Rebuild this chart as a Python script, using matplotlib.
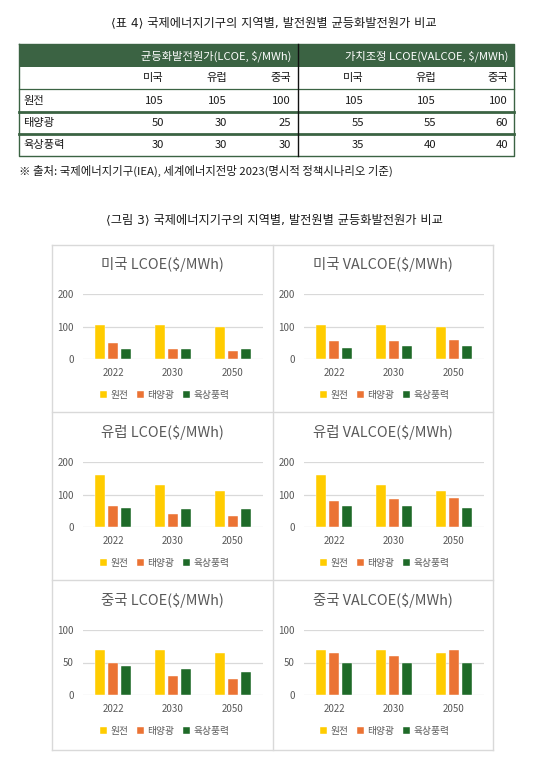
import numpy as np
import matplotlib
matplotlib.use('Agg')
import matplotlib.pyplot as plt

plt.rcParams['font.family'] = ['Noto Sans CJK KR', 'DejaVu Sans']

# ---- data ----
regions = ['미국', '유럽', '중국']
years = ['2022', '2030', '2050']
sources = ['원전', '태양광', '육상풍력']

# table (rows = sources, cols = regions)
table_lcoe = [[105, 105, 100], [50, 30, 25], [30, 30, 30]]
table_valcoe = [[105, 105, 100], [55, 55, 60], [35, 40, 40]]

# charts (rows = sources, cols = years)
us_lcoe = [[105, 105, 100], [50, 30, 25], [30, 30, 30]]
us_valcoe = [[105, 105, 100], [55, 55, 60], [35, 40, 40]]
eu_lcoe = [[160, 130, 110], [65, 40, 35], [60, 55, 55]]
eu_valcoe = [[160, 130, 110], [80, 85, 90], [65, 65, 60]]
cn_lcoe = [[70, 70, 65], [50, 30, 25], [45, 40, 35]]
cn_valcoe = [[70, 70, 65], [65, 60, 70], [50, 50, 50]]

panels = [
    ('미국 LCOE($/MWh)', us_lcoe, 200),
    ('미국 VALCOE($/MWh)', us_valcoe, 200),
    ('유럽 LCOE($/MWh)', eu_lcoe, 200),
    ('유럽 VALCOE($/MWh)', eu_valcoe, 200),
    ('중국 LCOE($/MWh)', cn_lcoe, 100),
    ('중국 VALCOE($/MWh)', cn_valcoe, 100),
]

colors = ['#FFCC00', '#EB7334', '#1E6A28']
green = '#3B6343'
grey = '#595959'
ink = '#1A1A1A'
cap_fam = ['DejaVu Sans', 'Noto Sans CJK KR']
tfs = 8.1

W, H = 538, 759
fig = plt.figure(figsize=(W / 100, H / 100), dpi=100)

# background axes in pixel coords
bg = fig.add_axes([0, 0, 1, 1])
bg.set_xlim(0, W)
bg.set_ylim(H, 0)
bg.axis('off')

# ---- table ----
bg.text(274, 23, '⟨표 4⟩ 국제에너지기구의 지역별, 발전원별 균등화발전원가 비교',
        ha='center', va='center', fontsize=8.8, color=ink, family=cap_fam)

tl, tr = 19, 514
bg.add_patch(plt.Rectangle((tl, 44), tr - tl, 23, color=green, lw=0))
bg.plot([tl, tr, tr, tl, tl], [44, 44, 156, 156, 44], color=green, lw=1)
bg.plot([tl, tr], [89, 89], color=green, lw=0.9)
bg.plot([tl, tr], [112, 112], color=green, lw=2)
bg.plot([tl, tr], [134, 134], color=green, lw=2)
bg.plot([298, 298], [44, 156], color='#111111', lw=1)

bg.text(291, 56, '균등화발전원가(LCOE, $/MWh)', ha='right', va='center',
        fontsize=tfs, color='white')
bg.text(508, 56, '가치조정 LCOE(VALCOE, $/MWh)', ha='right', va='center',
        fontsize=tfs, color='white')

col_x = [164, 227, 291, 364, 436, 508]
row_y = [101, 123, 145]
for i, reg in enumerate(regions):
    bg.text(col_x[i], 78, reg, ha='right', va='center', fontsize=tfs, color=ink)
    bg.text(col_x[i + 3], 78, reg, ha='right', va='center', fontsize=tfs, color=ink)
for r, src in enumerate(sources):
    bg.text(23, row_y[r], src, ha='left', va='center', fontsize=tfs, color=ink)
    for i in range(3):
        bg.text(col_x[i], row_y[r], str(table_lcoe[r][i]), ha='right', va='center',
                fontsize=tfs, color=ink)
        bg.text(col_x[i + 3], row_y[r], str(table_valcoe[r][i]), ha='right', va='center',
                fontsize=tfs, color=ink)

bg.text(19, 171, '※ 출처: 국제에너지기구(IEA), 세계에너지전망 2023(명시적 정책시나리오 기준)',
        ha='left', va='center', fontsize=8.2, color=ink)

bg.text(274, 220, '⟨그림 3⟩ 국제에너지기구의 지역별, 발전원별 균등화발전원가 비교',
        ha='center', va='center', fontsize=8.8, color=ink, family=cap_fam)

# ---- panel grid borders ----
xs = [52, 273, 493]
ys = [245, 412, 580, 750]
bcol = '#D9D9D9'
for x in xs:
    bg.plot([x, x], [ys[0], ys[-1]], color=bcol, lw=1)
for y in ys:
    bg.plot([xs[0], xs[-1]], [y, y], color=bcol, lw=1)

# ---- charts ----
row_top = [294, 462, 630]
x = np.arange(len(years))
bw = 10 / 60
offs = [-13 / 60, 0, 13 / 60]

for k, (title, vals, ymax) in enumerate(panels):
    r, c = divmod(k, 2)
    pl = xs[c]
    ax_l = pl + 31
    ax_top = row_top[r]
    ax_bot = ax_top + 65
    ax = fig.add_axes([ax_l / W, 1 - ax_bot / H, 180 / W, 65 / H])
    for s in range(3):
        ax.bar(x + offs[s], vals[s], width=bw, color=colors[s], label=sources[s],
               edgecolor='white', linewidth=0.3, zorder=3)
    ax.set_xlim(-0.5, 2.5)
    ax.set_ylim(0, ymax)
    ax.set_yticks([0, ymax / 2, ymax])
    ax.set_yticklabels([str(int(v)) for v in [0, ymax / 2, ymax]])
    ax.set_xticks(x)
    ax.set_xticklabels(years)
    ax.grid(axis='y', color=bcol, lw=0.9, zorder=0)
    for sp in ax.spines.values():
        sp.set_visible(False)
    ax.tick_params(length=0, labelsize=7, labelcolor=grey)
    ax.tick_params(axis='y', pad=6.5)
    ax.tick_params(axis='x', pad=6.5)
    ax.set_facecolor('none')

    cx = (xs[c] + xs[c + 1]) / 2
    bg.text(cx, ys[r] + 20, title, ha='center', va='center', fontsize=10.4, color=grey)

    ax.legend(loc='center', bbox_to_anchor=((cx + 2) / W, 1 - (ax_bot + 36) / H),
              bbox_transform=fig.transFigure, ncol=3, frameon=False, fontsize=7,
              handlelength=0.7, handleheight=0.7, handletextpad=0.35,
              columnspacing=0.9, labelcolor=grey)

fig.savefig('out.png', dpi=100)
